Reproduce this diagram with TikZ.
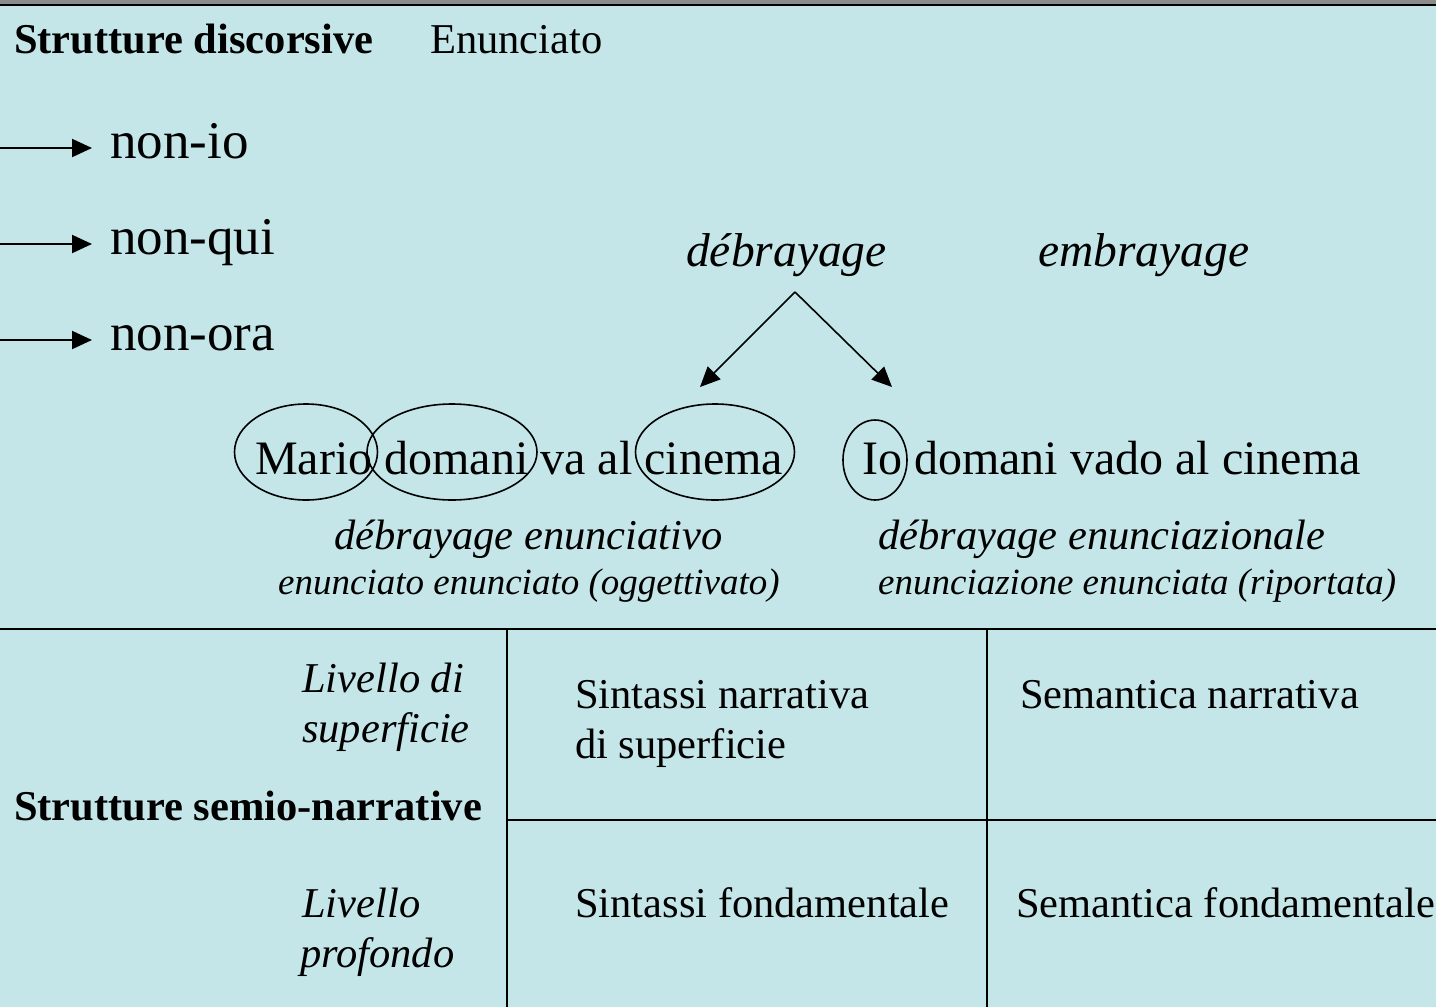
\documentclass[tikz,border=0pt]{standalone}
\usepackage{fontspec}
\setmainfont{Liberation Serif}
\usetikzlibrary{arrows.meta,shapes.geometric}
\definecolor{fondo}{RGB}{196,230,232}
\definecolor{bordo}{RGB}{140,140,140}
\newcommand{\fsz}[1]{\fontsize{#1}{#1}\selectfont}

\begin{document}
\begin{tikzpicture}[x=1pt,y=-1pt,>={Triangle[length=20pt,width=18pt]},
		testo/.style={anchor=base west,inner sep=0pt,font=\fsz{42.5}},
		corsivo/.style={testo,font=\itshape\fsz{42.5}},
		grassetto/.style={testo,font=\bfseries\fsz{42.5}},
		grande/.style={testo,font=\fsz{53}},
		etich/.style={testo,font=\itshape\fsz{47.5}},
		frase/.style={testo,font=\fsz{48}},
		nota/.style={testo,font=\itshape\fsz{37}},
		ovale/.style={draw,ellipse,line width=1.6pt,inner sep=0pt},
		riga/.style={line width=2pt}]
		\useasboundingbox (0,0) rectangle (1436,1007);
		\fill[fondo] (0,0) rectangle (1436,1007);
		\fill[bordo] (0,0) rectangle (1436,4);
		\draw[riga] (0,4.5)--(1436,4.5);
		% strutture discorsive
		\node[grassetto] (sd) at (14,53) {Strutture discorsive};
		\node[testo] (enun) at (430,53) {Enunciato};
		\foreach \t [count=\i] in {io,qui,ora}{
			\node[grande] (non\i) at (110,{62+96*\i}) {non-\t};
			\coordinate (frec\i) at (0,{52+96*\i});
			\draw[->,line width=2pt,shorten >=18pt] (frec\i)--(frec\i-|non\i.west);
		}
		\node[etich] (deb) at (686,266) {débrayage};
		\node[etich] (emb) at (1038,266) {embrayage};
		\coordinate (apice) at (795,292);
		\coordinate (punta1) at (700,387);
		\coordinate (punta2) at (892,387);
		\draw[->,line width=1.6pt] (apice)--(punta1);
		\draw[->,line width=1.6pt] (apice)--(punta2);
		% frasi
		\node[ovale,minimum width=143pt,minimum height=96pt] (oMario) at (306,452) {};
		\node[ovale,minimum width=170pt,minimum height=96pt] (oDomani) at (452,452) {};
		\node[ovale,minimum width=159pt,minimum height=96pt] (oCinema) at (715,452) {};
		\node[ovale,minimum width=64pt,minimum height=80pt] (oIo) at (875,460) {};
		\node[frase] (fr1) at (255,474) {Mario domani va al cinema};
		\node[frase] (fr2) at (862,474) {Io domani vado al cinema};
		\node[corsivo] (deb1) at (334,549) {débrayage enunciativo};
		\node[nota] (enu1) at (278,594) {enunciato enunciato (oggettivato)};
		\node[corsivo] (deb2) at (878,549) {débrayage enunciazionale};
		\node[nota] (enu2) at (878,594) {enunciazione enunciata (riportata)};
		% tabella
		\draw[riga] (0,628.5)--(1436,628.5);
		\draw[riga] (507,628.5)--(507,1007) (987,628.5)--(987,1007);
		\draw[riga] (507,820)--(1436,820);
		\node[corsivo] (liv1) at (302,692) {Livello di};
		\node[corsivo] (liv1b) at (302,742) {superficie};
		\node[grassetto] (ssn) at (14,820) {Strutture semio-narrative};
		\node[corsivo] (liv2) at (302,917) {Livello};
		\node[corsivo] (liv2b) at (300,967) {profondo};
		\node[testo] (sin1) at (575,708) {Sintassi narrativa};
		\node[testo] (sin1b) at (575,758) {di superficie};
		\node[testo] (sem1) at (1020,708) {Semantica narrativa};
		\node[testo] (sin2) at (575,917) {Sintassi fondamentale};
		\node[testo] (sem2) at (1016,917) {Semantica fondamentale};
	\end{tikzpicture}
\end{document}
